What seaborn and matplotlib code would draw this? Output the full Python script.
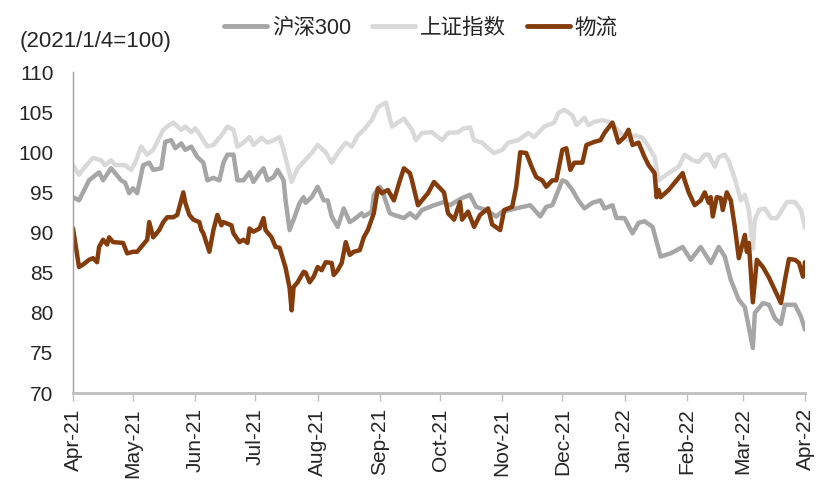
import matplotlib
matplotlib.use("Agg")
import matplotlib.pyplot as plt
import matplotlib.dates as mdates
from matplotlib.lines import Line2D
import seaborn as sns
import pandas as pd

# ---------------- data ----------------
hs300_dates = ["2021-04-01","2021-04-04","2021-04-09","2021-04-14","2021-04-16","2021-04-20","2021-04-25","2021-04-27","2021-04-29",
"2021-05-01","2021-05-03","2021-05-06","2021-05-09","2021-05-11","2021-05-15","2021-05-17","2021-05-20","2021-05-22","2021-05-25","2021-05-27","2021-05-30",
"2021-06-02","2021-06-05","2021-06-07","2021-06-10","2021-06-13","2021-06-15","2021-06-17","2021-06-20","2021-06-22","2021-06-25","2021-06-28","2021-06-30",
"2021-07-03","2021-07-05","2021-07-07","2021-07-10","2021-07-12","2021-07-15","2021-07-16","2021-07-18","2021-07-20","2021-07-23","2021-07-25","2021-07-26","2021-07-29",
"2021-08-01","2021-08-04","2021-08-06","2021-08-08","2021-08-11","2021-08-14","2021-08-17","2021-08-19","2021-08-23","2021-08-24","2021-08-28","2021-08-29",
"2021-09-01","2021-09-02","2021-09-06","2021-09-08","2021-09-13","2021-09-16","2021-09-19","2021-09-22","2021-09-28",
"2021-10-03","2021-10-06","2021-10-12","2021-10-16","2021-10-19","2021-10-24","2021-10-29",
"2021-11-01","2021-11-08","2021-11-15","2021-11-20","2021-11-23","2021-11-26",
"2021-12-01","2021-12-03","2021-12-06","2021-12-09","2021-12-12","2021-12-16","2021-12-20","2021-12-22","2021-12-26","2021-12-28",
"2022-01-01","2022-01-05","2022-01-08","2022-01-11","2022-01-15","2022-01-19","2022-01-24","2022-01-30",
"2022-02-03","2022-02-08","2022-02-13","2022-02-17","2022-02-20","2022-02-23","2022-02-27",
"2022-03-02","2022-03-06","2022-03-07","2022-03-11","2022-03-14","2022-03-17","2022-03-20","2022-03-22","2022-03-27","2022-03-30","2022-04-01"]
hs300_values = [94.4,94.0,96.5,97.5,96.5,98.0,96.5,96.2,94.9,
95.5,94.9,98.4,98.7,97.8,98.0,101.3,101.5,100.5,101.1,100.3,100.7,
99.4,98.7,96.5,96.8,96.5,98.7,99.7,99.7,96.5,96.5,97.5,96.3,
97.4,98.0,96.5,96.9,97.8,96.5,94.0,90.3,91.6,93.7,94.4,93.7,94.4,
95.7,94.0,94.0,92.0,90.7,93.0,91.3,91.6,92.4,92.0,92.6,94.7,
95.7,95.3,92.4,92.2,91.8,92.4,91.8,92.8,93.4,
93.8,93.4,94.3,94.7,93.2,92.8,92.0,
92.6,93.0,93.4,92.0,93.2,93.4,
96.5,96.3,95.3,94.0,93.0,93.7,94.0,93.0,93.4,91.8,
91.8,89.9,91.2,91.4,90.7,87.0,87.4,88.2,
86.6,88.2,86.2,88.2,87.0,84.1,81.6,
80.7,75.6,80.0,81.2,81.0,79.3,78.6,81.0,81.0,79.5,77.9]

sse_dates = ["2021-04-01","2021-04-04","2021-04-07","2021-04-11","2021-04-15","2021-04-17","2021-04-20","2021-04-22","2021-04-27","2021-04-30",
"2021-05-02","2021-05-05","2021-05-08","2021-05-11","2021-05-16","2021-05-18","2021-05-21","2021-05-25","2021-05-27","2021-05-30",
"2021-06-01","2021-06-04","2021-06-07","2021-06-10","2021-06-14","2021-06-17","2021-06-20","2021-06-22","2021-06-25","2021-06-28","2021-06-30",
"2021-07-04","2021-07-07","2021-07-10","2021-07-13","2021-07-15","2021-07-19","2021-07-22","2021-07-25","2021-07-29",
"2021-08-01","2021-08-05","2021-08-08","2021-08-11","2021-08-15","2021-08-18","2021-08-21","2021-08-24","2021-08-28","2021-08-31",
"2021-09-04","2021-09-07","2021-09-10","2021-09-13","2021-09-17","2021-09-19","2021-09-22","2021-09-27",
"2021-10-02","2021-10-05","2021-10-10","2021-10-13","2021-10-16","2021-10-18","2021-10-22","2021-10-25","2021-10-28",
"2021-11-01","2021-11-04","2021-11-09","2021-11-14","2021-11-17","2021-11-22","2021-11-27","2021-11-29",
"2021-12-02","2021-12-06","2021-12-08","2021-12-12","2021-12-14","2021-12-17","2021-12-21","2021-12-24","2021-12-27","2021-12-30",
"2022-01-03","2022-01-06","2022-01-10","2022-01-13","2022-01-16","2022-01-18","2022-01-23","2022-01-28","2022-01-31",
"2022-02-04","2022-02-07","2022-02-10","2022-02-12","2022-02-15","2022-02-17","2022-02-20","2022-02-22","2022-02-25","2022-02-28",
"2022-03-02","2022-03-04","2022-03-06","2022-03-07","2022-03-09","2022-03-12","2022-03-15","2022-03-18","2022-03-21","2022-03-23","2022-03-27","2022-03-30","2022-04-01"]
sse_values = [98.4,97.2,98.2,99.3,99.0,98.4,99.0,98.4,98.4,97.8,
98.7,100.7,99.7,100.3,102.8,103.2,103.7,102.8,103.2,102.5,
103.0,101.9,100.7,100.9,102.1,103.2,102.8,100.7,101.2,101.9,100.9,
101.8,101.2,101.5,101.9,100.3,96.3,98.0,98.8,99.9,
100.9,100.0,98.7,99.9,101.2,100.7,102.1,102.8,104.0,105.6,
106.2,103.2,103.7,104.2,102.8,101.5,102.4,102.5,
101.5,102.4,102.5,103.0,103.1,101.5,101.2,100.5,99.9,
100.3,101.2,101.5,102.4,101.9,103.2,103.7,104.9,
105.3,104.6,103.4,104.3,103.4,103.8,104.0,103.8,103.2,102.4,
101.5,102.1,101.8,100.7,99.4,96.5,97.4,98.2,99.7,
99.0,98.8,99.7,99.7,98.2,99.4,99.7,98.9,96.7,94.0,
94.7,92.8,88.0,91.6,92.8,93.0,91.8,91.8,93.0,93.8,93.8,92.8,90.6]

logi_dates = ["2021-04-01","2021-04-04","2021-04-06","2021-04-09","2021-04-11","2021-04-13","2021-04-14","2021-04-16","2021-04-18","2021-04-19","2021-04-21","2021-04-26","2021-04-28",
"2021-05-01","2021-05-03","2021-05-06","2021-05-08","2021-05-09","2021-05-11","2021-05-14","2021-05-16","2021-05-18","2021-05-21","2021-05-23","2021-05-26","2021-05-27","2021-05-29","2021-05-31",
"2021-06-03","2021-06-04","2021-06-05","2021-06-08","2021-06-10","2021-06-12","2021-06-14","2021-06-15","2021-06-19","2021-06-20","2021-06-23","2021-06-25","2021-06-27","2021-06-28","2021-06-30",
"2021-07-03","2021-07-05","2021-07-06","2021-07-09","2021-07-11","2021-07-13","2021-07-16","2021-07-18","2021-07-19","2021-07-20","2021-07-22","2021-07-25","2021-07-26","2021-07-28","2021-07-30",
"2021-08-01","2021-08-03","2021-08-05","2021-08-08","2021-08-09","2021-08-11","2021-08-13","2021-08-15","2021-08-17","2021-08-19","2021-08-22","2021-08-24","2021-08-26","2021-08-29","2021-08-31",
"2021-09-02","2021-09-05","2021-09-08","2021-09-11","2021-09-13","2021-09-16","2021-09-17","2021-09-20","2021-09-25","2021-09-28",
"2021-10-03","2021-10-05","2021-10-08","2021-10-11","2021-10-12","2021-10-15","2021-10-18","2021-10-21","2021-10-25","2021-10-27","2021-10-31",
"2021-11-02","2021-11-06","2021-11-08","2021-11-10","2021-11-13","2021-11-16","2021-11-18","2021-11-21","2021-11-23","2021-11-26","2021-11-28",
"2021-12-01","2021-12-03","2021-12-05","2021-12-07","2021-12-11","2021-12-13","2021-12-17","2021-12-20","2021-12-22","2021-12-26","2021-12-29",
"2022-01-01","2022-01-03","2022-01-05","2022-01-08","2022-01-11","2022-01-13","2022-01-16","2022-01-17","2022-01-18","2022-01-19","2022-01-23","2022-01-30","2022-01-31",
"2022-02-02","2022-02-05","2022-02-08","2022-02-10","2022-02-12","2022-02-13","2022-02-14","2022-02-16","2022-02-18","2022-02-19","2022-02-21","2022-02-23","2022-02-25","2022-02-27",
"2022-03-02","2022-03-03","2022-03-04","2022-03-06","2022-03-08","2022-03-11","2022-03-14","2022-03-17","2022-03-20","2022-03-22","2022-03-24","2022-03-27","2022-03-29","2022-03-31","2022-04-01"]
logi_values = [90.5,85.7,86.0,86.6,86.8,86.3,88.2,89.1,88.5,89.4,88.8,88.7,87.4,
87.6,87.6,88.5,89.1,91.3,89.4,90.3,91.3,91.9,91.9,92.2,95.0,93.7,92.2,91.6,
91.3,90.3,89.9,87.6,90.3,92.2,90.9,91.3,90.9,89.9,88.8,89.1,88.7,90.5,90.1,
90.5,91.8,90.3,89.4,88.2,88.1,85.6,83.1,80.3,83.2,83.8,85.1,85.0,83.8,84.5,
85.7,85.3,86.3,86.2,84.7,85.3,86.2,88.8,87.2,87.6,87.8,89.4,90.3,92.4,95.5,
94.9,95.3,94.0,96.5,98.0,97.4,96.5,93.4,94.9,96.3,
95.0,92.4,91.6,93.8,91.6,92.6,90.7,92.2,93.0,91.0,90.3,
92.8,93.2,95.7,100.0,99.9,98.0,96.9,96.5,95.7,96.5,96.5,
100.3,100.5,97.8,98.7,98.7,100.9,101.3,101.5,102.4,103.7,101.2,
101.9,102.8,100.9,101.2,99.4,98.4,97.4,94.4,95.3,94.4,95.3,97.4,96.5,
95.0,93.4,94.0,95.0,93.7,94.4,92.0,94.4,94.3,92.8,95.0,94.0,90.7,86.8,
89.7,87.6,88.7,81.3,86.6,85.7,84.4,82.8,81.2,84.1,86.7,86.6,86.2,84.5,86.3]

series_names = ["沪深300", "上证指数", "物流"]
series_colors = ["#A6A6A6", "#D9D9D9", "#843C0C"]
y_ticks = [70, 75, 80, 85, 90, 95, 100, 105, 110]
unit_label = "(2021/1/4=100)"

# ---------------- build frame ----------------
frames = []
for name, d, v in [(series_names[0], hs300_dates, hs300_values),
                   (series_names[1], sse_dates, sse_values),
                   (series_names[2], logi_dates, logi_values)]:
    frames.append(pd.DataFrame({"date": pd.to_datetime(d), "value": v, "series": name}))
df = pd.concat(frames, ignore_index=True)

sns.set_style("white")
plt.rcParams["font.family"] = ["Liberation Sans", "Noto Sans CJK SC", "DejaVu Sans"]

fig = plt.figure(figsize=(8.38, 4.94), dpi=100)
ax = fig.add_axes([73/838, 1-393/494, (805-73)/838, (393-72)/494])

palette = dict(zip(series_names, series_colors))
draw_order = [series_names[1], series_names[0], series_names[2]]
for name in draw_order:
    sub = df[df["series"] == name]
    sns.lineplot(data=sub, x="date", y="value", color=palette[name], linewidth=3.2,
                 estimator=None, sort=True, ax=ax, legend=False)

ax.set_xlim(pd.Timestamp("2021-04-01"), pd.Timestamp("2022-04-01"))
ax.set_ylim(70, 110)
ax.set_yticks(y_ticks)
ax.set_xlabel("")
ax.set_ylabel("")
ax.xaxis.set_major_locator(mdates.MonthLocator())
ax.xaxis.set_major_formatter(mdates.DateFormatter("%b-%y"))
for lab in ax.get_xticklabels():
    lab.set_rotation(90)
ax.tick_params(axis="x", labelsize=15, length=6, width=1, color="#BFBFBF", pad=5, direction="out", bottom=True)
ax.tick_params(axis="y", labelsize=15, length=0, pad=14)

for s in ["top", "right"]:
    ax.spines[s].set_visible(False)
ax.spines["left"].set_color("#A0A0A0")
ax.spines["left"].set_linewidth(1)
ax.spines["bottom"].set_color("#BFBFBF")
ax.spines["bottom"].set_linewidth(2)
ax.grid(False)

handles = [Line2D([0], [0], color=c, linewidth=3.5) for c in series_colors]
fig.legend(handles, series_names, loc="center", bbox_to_anchor=(421/838, 1-28/494),
           ncol=3, frameon=False, fontsize=15.5, handlelength=2.0, columnspacing=1.0,
           handletextpad=0.2)

fig.text(20/838, 1-42/494, unit_label, fontsize=16, ha="left", va="center")

fig.savefig("out.png", dpi=100)
